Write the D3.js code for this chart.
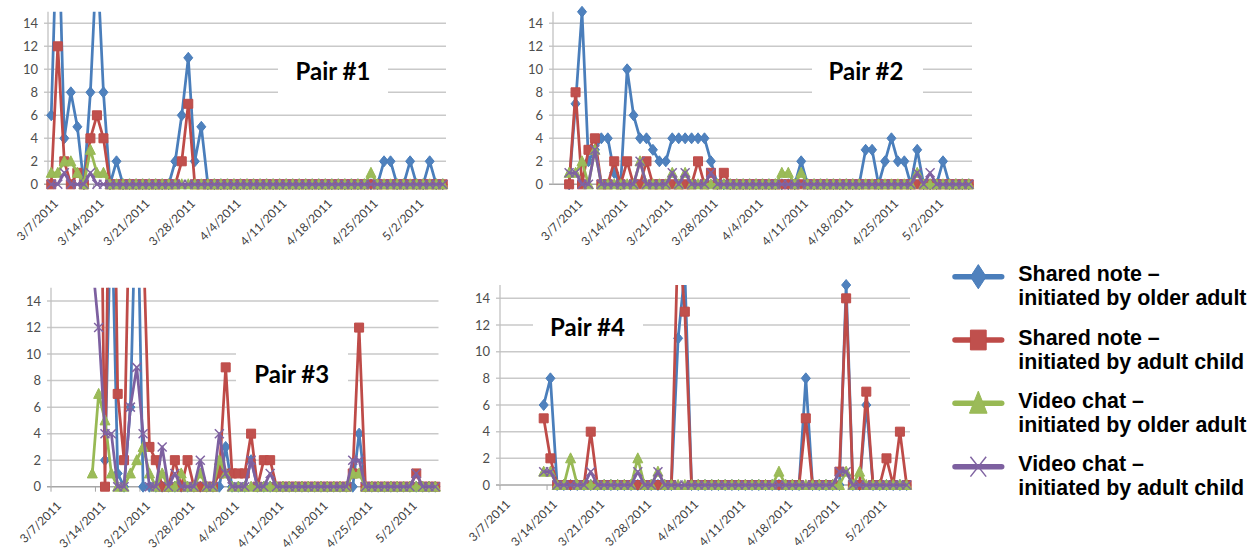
<!DOCTYPE html>
<html>
<head>
<meta charset="utf-8">
<script src="https://cdn.jsdelivr.net/npm/d3@7"></script>
<style>
  html, body { margin: 0; padding: 0; background: #fff; }
  svg { display: block; font-family: Lato, "Open Sans", sans-serif; }
</style>
</head>
<body>
<svg id="chart" width="1257" height="552"></svg>
<script>
// ---- categories and labels ----
const seriesNames = [
  ["Shared note \u2013", "initiated by older adult"],
  ["Shared note \u2013", "initiated by adult child"],
  ["Video chat \u2013", "initiated by older adult"],
  ["Video chat \u2013", "initiated by adult child"]
];
const pairTitles = ["Pair #1", "Pair #2", "Pair #3", "Pair #4"];
const dateTicks = ["3/7/2011", "3/14/2011", "3/21/2011", "3/28/2011", "4/4/2011",
                   "4/11/2011", "4/18/2011", "4/25/2011", "5/2/2011"];
const yTicks = [0, 2, 4, 6, 8, 10, 12, 14];

// ---- daily counts, one value per day from each start date ----
const pair1Axis = ["3/7/2011", "5/7/2011"];
const pair1Start = "3/7/2011";
const pair1NoteOlder = [6,25,4,8,5,0,8,20,8,0, 2,0,0,0,0,0,0,0,0,2, 6,11,2,5,0,0,0,0,0,0,
  0,0,0,0,0,0,0,0,0,0, 0,0,0,0,0,0,0,0,0,0, 0,2,2,0,0,2,0,0,2,0, 0];
const pair1NoteChild = [0,12,2,0,1,0,4,6,4,0, 0,0,0,0,0,0,0,0,0,0, 2,7,0,0,0,0,0,0,0,0,
  0,0,0,0,0,0,0,0,0,0, 0,0,0,0,0,0,0,0,0,0, 0,0,0,0,0,0,0,0,0,0, 0];
const pair1VideoOlder = [1,1,2,2,1,0,3,1,1,0, 0,0,0,0,0,0,0,0,0,0, 0,0,0,0,0,0,0,0,0,0,
  0,0,0,0,0,0,0,0,0,0, 0,0,0,0,0,0,0,0,0,1, 0,0,0,0,0,0,0,0,0,0, 0];
const pair1VideoChild = [0,0,1,0,0,0,1,0,0,0, 0,0,0,0,0,0,0,0,0,0, 0,0,0,0,0,0,0,0,0,0,
  0,0,0,0,0,0,0,0,0,0, 0,0,0,0,0,0,0,0,0,0, 0,0,0,0,0,0,0,0,0,0, 0];

const pair2Axis = ["3/4/2011", "5/8/2011"];
const pair2Start = "3/6/2011";
const pair2NoteOlder = [0,7,15,2,3,4,4,1,0,10, 6,4,4,3,2,2,4,4,4,4, 4,4,2,0,0,0,0,0,0,0,
  0,0,0,0,0,0,2,0,0,0, 0,0,0,0,0,0,3,3,0,2, 4,2,2,0,3,0,0,0,2,0, 0,0,0];
const pair2NoteChild = [0,8,0,3,4,0,0,2,0,2, 0,0,2,0,0,0,0,0,0,0, 2,0,1,0,1,0,0,0,0,0,
  0,0,0,0,0,0,0,0,0,0, 0,0,0,0,0,0,0,0,0,0, 0,0,0,0,0,0,0,0,0,0, 0,0,0];
const pair2VideoOlder = [1,1,2,0,3,0,0,0,0,0, 0,2,0,0,0,0,1,0,1,0, 0,0,0,0,0,0,0,0,0,0,
  0,0,0,1,1,0,1,0,0,0, 0,0,0,0,0,0,0,0,0,0, 0,0,0,0,1,0,0,0,0,0, 0,0,0];
const pair2VideoChild = [1,1,0,0,3,0,0,0,0,0, 0,2,0,0,0,0,1,0,1,0, 0,0,1,0,0,0,0,0,0,0,
  0,0,0,0,0,0,0,0,0,0, 0,0,0,0,0,0,0,0,0,0, 0,0,0,0,1,0,1,0,0,0, 0,0,0];

const pair3Axis = ["3/7/2011", "5/7/2011"];
const pair3Start = "3/13/2011";
const pair3NoteOlder = [null,null,2,22,1,0,6,25,0,0, 0,0,0,0,0,0,0,0,0,0, 0,3,0,0,0,2,0,0,0,0,
  0,0,0,0,0,0,0,0,0,0, 0,0,4,0,0,0,0,0,0,0, 0,0,0,0,0];
const pair3NoteChild = [null,40,0,40,7,2,25,20,19,3, 2,0,0,2,0,2,0,0,0,0, 1,9,1,1,1,4,0,2,2,0,
  0,0,0,0,0,0,0,0,0,0, 0,1,12,0,0,0,0,0,0,0, 0,1,0,0,0];
const pair3VideoOlder = [1,7,5,1,0,0,1,2,3,1, 0,1,0,0,1,0,0,1,0,0, 2,1,0,0,0,0,0,0,0,0,
  0,0,0,0,0,0,0,0,0,0, 0,1,1,0,0,0,0,0,0,0, 0,0,0,0,0];
const pair3VideoChild = [17,12,4,4,0,0,6,9,4,0, 0,3,0,1,0,0,0,2,0,0, 4,1,0,0,0,2,0,0,1,0,
  0,0,0,0,0,0,0,0,0,0, 0,2,2,0,0,0,0,0,0,0, 0,1,0,0,0];

const pair4Axis = ["3/7/2011", "5/7/2011"];
const pair4Start = "3/13/2011";
const pair4NoteOlder = [6,8,0,0,0,0,0,0,0,0, 0,0,0,0,0,0,0,0,0,0, 11,16,0,0,0,0,0,0,0,0,
  0,0,0,0,0,0,0,0,0,8, 0,0,0,0,0,15,0,0,6,0, 0,0,0,0,0];
const pair4NoteChild = [5,2,0,0,0,0,0,4,0,0, 0,0,0,0,0,0,0,0,0,0, 19,13,0,0,0,0,0,0,0,0,
  0,0,0,0,0,0,0,0,0,5, 0,0,0,0,1,14,0,0,7,0, 0,2,0,4,0];
const pair4VideoOlder = [1,1,0,0,2,0,0,0,0,0, 0,0,0,0,2,0,0,1,0,0, 0,0,0,0,0,0,0,0,0,0,
  0,0,0,0,0,1,0,0,0,0, 0,0,0,0,0,1,0,1,0,0, 0,0,0,0,0];
const pair4VideoChild = [1,1,0,0,0,0,0,1,0,0, 0,0,0,0,1,0,0,1,0,0, 0,0,0,0,0,0,0,0,0,0,
  0,0,0,0,0,0,0,0,0,0, 0,0,0,0,1,1,0,0,0,0, 0,0,0,0,0];

// ---- assembled per pair ----
const pairs = [
  { axis: pair1Axis, start: pair1Start, series: [pair1NoteOlder, pair1NoteChild, pair1VideoOlder, pair1VideoChild] },
  { axis: pair2Axis, start: pair2Start, series: [pair2NoteOlder, pair2NoteChild, pair2VideoOlder, pair2VideoChild] },
  { axis: pair3Axis, start: pair3Start, series: [pair3NoteOlder, pair3NoteChild, pair3VideoOlder, pair3VideoChild] },
  { axis: pair4Axis, start: pair4Start, series: [pair4NoteOlder, pair4NoteChild, pair4VideoOlder, pair4VideoChild] }
];

// ---- layout and styling ----
const panelLayout = [
  { left: 48,  right: 446,   bottom: 184.3, top: 11.8,  titleX: 333,   titleY: 80,    box: [278, 50, 110, 56] },
  { left: 553, right: 972,   bottom: 184.3, top: 11.8,  titleX: 866,   titleY: 80,    box: [812, 50, 111, 56] },
  { left: 51,  right: 438.5, bottom: 486.7, top: 287.8, titleX: 291.7, titleY: 383.3, box: [236, 338, 112, 60] },
  { left: 500, right: 910,   bottom: 485,   top: 285,   titleX: 587.5, titleY: 335.7, box: [533, 306, 110, 40] }
];
const lineColors = ["#4A7EBB", "#BE4B48", "#98B954", "#7D60A0"];
const markerFills = ["#4F81BD", "#C0504D", "#9BBB59", "#8064A2"];
const markerPaths = [
  "M0,-5.5L4.5,0L0,5.5L-4.5,0Z",
  "M-4.5,-4.5H4.5V4.5H-4.5Z",
  "M0,-5.5L5,4.5L-5,4.5Z",
  "M-4.5,-4.5L4.5,4.5M4.5,-4.5L-4.5,4.5"
];
const yMax = 15;

const svg = d3.select("#chart");
const parseDate = d3.utcParse("%m/%d/%Y");
const tickDates = dateTicks.map(parseDate);

function drawMarker(sel, k) {
  sel.attr("d", markerPaths[k])
    .attr("fill", k === 3 ? "none" : markerFills[k])
    .attr("stroke", k === 3 ? markerFills[k] : lineColors[k])
    .attr("stroke-width", k === 3 ? 1.5 : 1);
}

pairs.forEach((pair, pi) => {
  const L = panelLayout[pi];
  const g = svg.append("g");
  const x = d3.scaleUtc().domain(pair.axis.map(parseDate)).range([L.left, L.right]);
  const y = d3.scaleLinear().domain([0, yMax]).range([L.bottom, L.top]);

  // horizontal gridlines with outside tick marks
  g.selectAll("line.grid").data(yTicks).join("line")
    .attr("class", "grid")
    .attr("x1", L.left - 4).attr("x2", L.right)
    .attr("y1", d => y(d)).attr("y2", d => y(d))
    .attr("stroke", d => d === 0 ? "#a6a6a6" : "#c9c9c9")
    .attr("stroke-width", 1.5);

  // vertical axis line
  g.append("line")
    .attr("x1", L.left).attr("x2", L.left)
    .attr("y1", y(yMax)).attr("y2", y(0))
    .attr("stroke", "#bfbfbf").attr("stroke-width", 1.25);

  // value labels
  g.selectAll("text.ylab").data(yTicks).join("text")
    .attr("class", "ylab")
    .attr("x", L.left - 10).attr("y", d => y(d)).attr("dy", "0.35em")
    .attr("text-anchor", "end")
    .attr("font-size", 13).attr("fill", "#4d4d4d")
    .text(d => d);

  // weekly ticks and rotated date labels
  g.selectAll("line.xtick").data(tickDates).join("line")
    .attr("class", "xtick")
    .attr("x1", d => x(d)).attr("x2", d => x(d))
    .attr("y1", y(0)).attr("y2", y(0) + 5)
    .attr("stroke", "#a6a6a6").attr("stroke-width", 1);
  g.selectAll("text.xlab").data(tickDates).join("text")
    .attr("class", "xlab")
    .attr("text-anchor", "end")
    .attr("dy", "0.35em")
    .attr("font-size", 12).attr("fill", "#404040")
    .attr("transform", d => `translate(${x(d) + 8},${y(0) + 17}) rotate(-45)`)
    .text((d, i) => dateTicks[i]);

  // clip lines to the plot area
  const clipId = "clip" + pi;
  svg.append("clipPath").attr("id", clipId).append("rect")
    .attr("x", L.left - 20).attr("y", y(yMax))
    .attr("width", L.right - L.left + 40).attr("height", y(0) - y(yMax) + 30);

  const start = parseDate(pair.start);
  pair.series.forEach((values, k) => {
    const pts = values.map((v, i) => ({
      t: d3.utcHour.offset(d3.utcDay.offset(start, i), 12),
      v: v
    }));
    const line = d3.line()
      .defined(d => d.v !== null)
      .x(d => x(d.t)).y(d => y(d.v));
    const sg = g.append("g");
    sg.append("path")
      .attr("clip-path", `url(#${clipId})`)
      .attr("d", line(pts))
      .attr("fill", "none")
      .attr("stroke", lineColors[k])
      .attr("stroke-width", 2.75)
      .attr("stroke-linejoin", "round");
    sg.selectAll("path.mk").data(pts.filter(d => d.v !== null && d.v <= yMax)).join("path")
      .attr("class", "mk")
      .attr("transform", d => `translate(${x(d.t)},${y(d.v)})`)
      .call(drawMarker, k);
  });

  // title box
  g.append("rect")
    .attr("x", L.box[0]).attr("y", L.box[1])
    .attr("width", L.box[2]).attr("height", L.box[3])
    .attr("fill", "#fff");
  g.append("text")
    .attr("x", L.titleX).attr("y", L.titleY)
    .attr("text-anchor", "middle")
    .attr("font-size", 24).attr("font-weight", 700).attr("fill", "#000")
    .text(pairTitles[pi]);
});

// legend
const legend = svg.append("g");
const legendSampleY = [276.7, 340, 403.3, 466.7];
seriesNames.forEach((name, k) => {
  const gy = legendSampleY[k];
  const lg = legend.append("g");
  lg.append("line")
    .attr("x1", 955).attr("x2", 1001.7).attr("y1", gy).attr("y2", gy)
    .attr("stroke", lineColors[k]).attr("stroke-width", 5.5).attr("stroke-linecap", "round");
  lg.append("path")
    .attr("transform", `translate(978.3,${gy}) scale(1.75,2.2)`)
    .call(drawMarker, k)
    .attr("vector-effect", "non-scaling-stroke");
  const label = lg.append("text")
    .attr("font-family", "'Liberation Sans', Arial, sans-serif")
    .attr("font-size", 21.4).attr("font-weight", 700).attr("fill", "#000");
  label.append("tspan").attr("x", 1018.3).attr("y", gy + 4.5).text(name[0]);
  label.append("tspan").attr("x", 1018.3).attr("y", gy + 28.7).text(name[1]);
});
</script>
</body>
</html>
